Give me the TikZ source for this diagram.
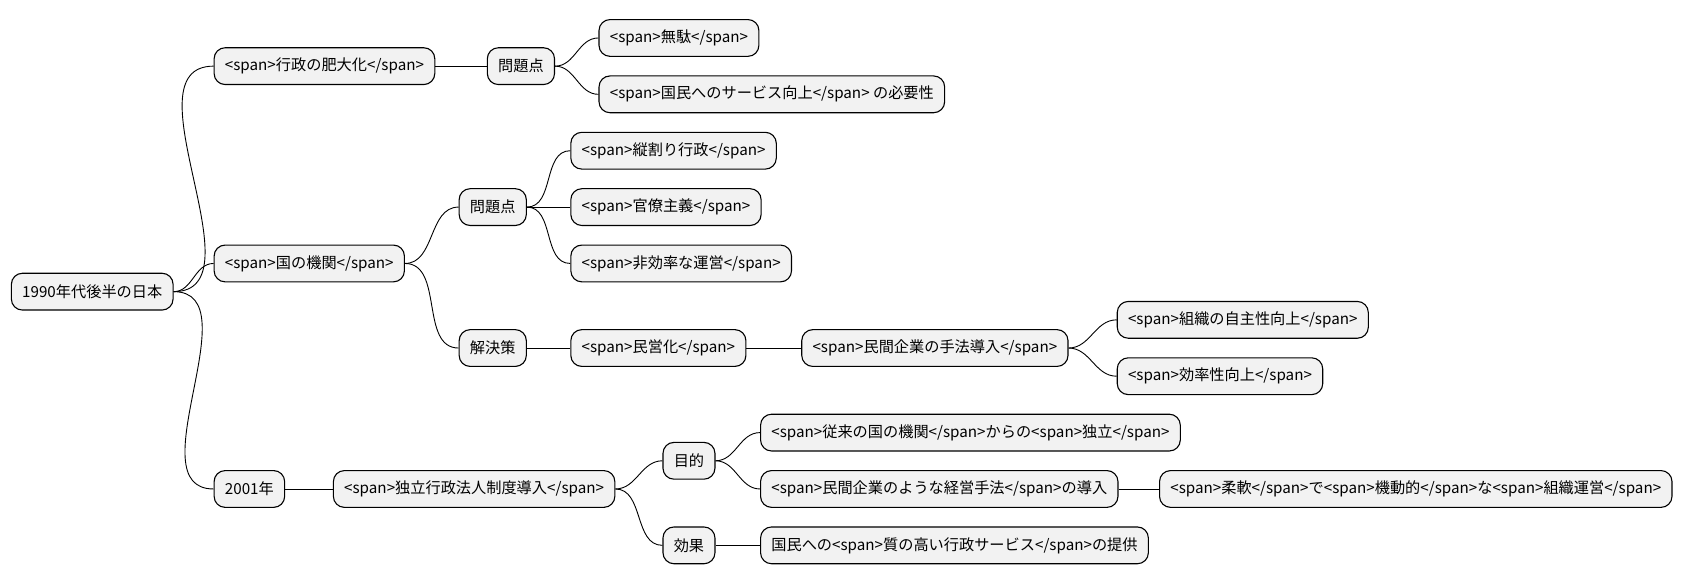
\documentclass[tikz,border=0pt]{standalone}
\usepackage{fontspec}
\setmainfont{Noto Sans CJK JP}
\tikzset{
  box/.style = {draw, fill = gray!10, rounded corners = 5.5pt, minimum height = 18.4pt,
                inner xsep = 5.4pt, anchor = west, line width = 0.55pt,
                font = \fontsize{7.6}{9}\selectfont},
  link/.style = {line width = 0.45pt, out = 0, in = 180}
}
\begin{document}
\begin{tikzpicture}[x = 0.5423pt, y = -0.5423pt]
\useasboundingbox (0,0) rectangle (1568,538);

%% Root
\node[box] (root) at (10, 269) {1990年代後半の日本};

%% Branch 1
\node[box] (gyosei) at (197, 61) {<span>行政の肥大化</span>};
\node[box] (mon1) at (449, 61) {問題点};
\node[box] (muda) at (552, 35) {<span>無駄</span>};
\node[box] (service) at (552, 87) {<span>国民へのサービス向上</span> の必要性};

%% Branch 2
\node[box] (kikan) at (197, 243) {<span>国の機関</span>};
\node[box] (mon2) at (423, 191) {問題点};
\node[box] (tatewari) at (526, 139) {<span>縦割り行政</span>};
\node[box] (kanryo) at (526, 191) {<span>官僚主義</span>};
\node[box] (hikoritsu) at (526, 243) {<span>非効率な運営</span>};
\node[box] (kaiketsu) at (423, 321) {解決策};
\node[box] (mineika) at (526, 321) {<span>民営化</span>};
\node[box] (shuho) at (739, 321) {<span>民間企業の手法導入</span>};
\node[box] (jishu) at (1030, 295) {<span>組織の自主性向上</span>};
\node[box] (koritsu) at (1030, 347) {<span>効率性向上</span>};

%% Branch 3
\node[box] (y2001) at (197, 451) {2001年};
\node[box] (dokuho) at (307, 451) {<span>独立行政法人制度導入</span>};
\node[box] (mokuteki) at (611, 425) {目的};
\node[box] (dokuritsu) at (701, 399) {<span>従来の国の機関</span>からの<span>独立</span>};
\node[box] (keiei) at (701, 451) {<span>民間企業のような経営手法</span>の導入};
\node[box] (junan) at (1069, 451) {<span>柔軟</span>で<span>機動的</span>な<span>組織運営</span>};
\node[box] (koka) at (611, 503) {効果};
\node[box] (teikyo) at (701, 503) {国民への<span>質の高い行政サービス</span>の提供};

%% Links
\foreach \a/\b in {root/gyosei, root/kikan, root/y2001,
                   gyosei/mon1, mon1/muda, mon1/service,
                   kikan/mon2, kikan/kaiketsu, mon2/tatewari, mon2/kanryo, mon2/hikoritsu,
                   kaiketsu/mineika, mineika/shuho, shuho/jishu, shuho/koritsu,
                   y2001/dokuho, dokuho/mokuteki, dokuho/koka,
                   mokuteki/dokuritsu, mokuteki/keiei, keiei/junan, koka/teikyo}{
  \draw[link] (\a.east) to (\b.west);
}
\end{tikzpicture}
\end{document}
